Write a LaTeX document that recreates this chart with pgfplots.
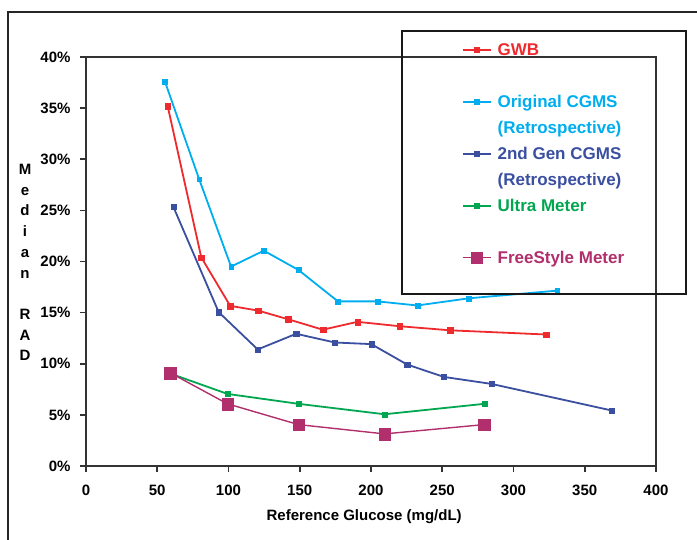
\documentclass[border=0pt]{standalone}
\usepackage{pgfplots}
\pgfplotsset{compat=1.18}
\usepackage{fontspec}
\setmainfont{Liberation Sans}
\definecolor{cgwb}{HTML}{EE2A2E}
\definecolor{corig}{HTML}{00AEEF}
\definecolor{cgen}{HTML}{3B4FA0}
\definecolor{cultra}{HTML}{00A650}
\definecolor{cfree}{HTML}{B02F6C}
\begin{document}
\begin{tikzpicture}[x=1pt,y=1pt]
\useasboundingbox (0,0) rectangle (697,539);
\draw[line width=1.2pt, black!85] (8,-5) -- (8,527) -- (705,527);
\begin{axis}[
  at={(86pt,73pt)}, anchor=south west,
  scale only axis, width=570pt, height=409pt,
  xmin=0, xmax=400, ymin=0, ymax=40,
  xtick={0,50,...,400}, ytick={0,5,...,40},
  /pgf/number format/assume math mode=true,
  yticklabel={\pgfmathprintnumber{\tick}\%},
  tick label style={font=\fontsize{15}{18}\selectfont\bfseries},
  xticklabel style={yshift=-9pt},
  yticklabel style={xshift=-6pt},
  tick align=outside, tick pos=left, major tick length=6pt,
  axis line style={line width=1.6pt, black!80},
  every tick/.style={line width=1.6pt, black!80},
  xlabel={Reference Glucose (mg/dL)},
  xlabel style={at={(axis description cs:0.488,-0.125)}, anchor=center, font=\fontsize{15}{18}\selectfont\bfseries},
  ylabel={\begin{tabular}{@{}c@{}}M\\e\\d\\i\\a\\n\\ \\R\\A\\D\end{tabular}},
  ylabel style={rotate=-90, at={(axis description cs:-0.107,0.495)}, anchor=center, font=\fontsize{15}{20.7}\selectfont\bfseries},
  legend style={at={(axis description cs:0.659,1.044)}, anchor=north west, draw=none, fill=none, inner sep=0pt, row sep=5pt,
    font=\fontsize{17}{20}\selectfont\bfseries,
    nodes={inner sep=1pt, text height=15pt, text depth=4pt},
    cells={anchor=west},
    /tikz/column 1/.style={column sep=5pt}},
  legend cell align=left,
  legend image code/.code={\draw[mark repeat=2,mark phase=2,#1] plot coordinates {(0pt,0pt) (14pt,0pt) (28pt,0pt)};},
  every axis plot/.append style={line width=1.8pt, mark=square*, mark options={solid, line width=0.2pt}},
]
\addplot[cgwb, mark size=2.8pt] coordinates {
(57.3,35.2) (80.9,20.4) (101.2,15.66) (120.8,15.2) (141.9,14.35) (166.2,13.33) (190.5,14.1) (220.1,13.67) (255.6,13.27) (322.8,12.86)};
\addlegendentry{\textcolor{cgwb}{GWB}}
\addlegendimage{empty legend}
\addlegendentry{}
\addplot[corig, mark size=2.4pt] coordinates {
(55.4,37.6) (79.4,28.05) (101.8,19.5) (124.8,21.06) (149.1,19.17) (176.8,16.1) (204.5,16.1) (232.5,15.7) (268.6,16.4) (330.6,17.15)};
\addlegendentry{\textcolor{corig}{Original CGMS}}
\addlegendimage{empty legend}
\addlegendentry{\textcolor{corig}{(Retrospective)}}
\addplot[cgen, mark size=2.6pt] coordinates {
(61.3,25.35) (93.1,15.05) (120.5,11.4) (147.5,12.93) (174.6,12.08) (200.2,11.92) (225.4,9.92) (251.2,8.71) (284.5,8.03) (368.9,5.43)};
\addlegendentry{\textcolor{cgen}{2nd Gen CGMS}}
\addlegendimage{empty legend}
\addlegendentry{\textcolor{cgen}{(Retrospective)}}
\addplot[cultra, mark size=2.4pt] coordinates {
(60,9.0) (99.3,7.05) (149.1,6.08) (209.5,5.06) (279.5,6.08)};
\addlegendentry{\textcolor{cultra}{Ultra Meter}}
\addlegendimage{empty legend}
\addlegendentry{}
\addplot[cfree, mark size=5.8pt, line width=1.4pt] coordinates {
(59.1,9.11) (99.3,6.08) (149.1,4.05) (209.5,3.14) (279.5,4.05)};
\addlegendentry{\textcolor{cfree}{FreeStyle Meter}}
\end{axis}
\draw[line width=1.2pt, black!90] (402,245) rectangle (686,508);
\end{tikzpicture}
\end{document}
